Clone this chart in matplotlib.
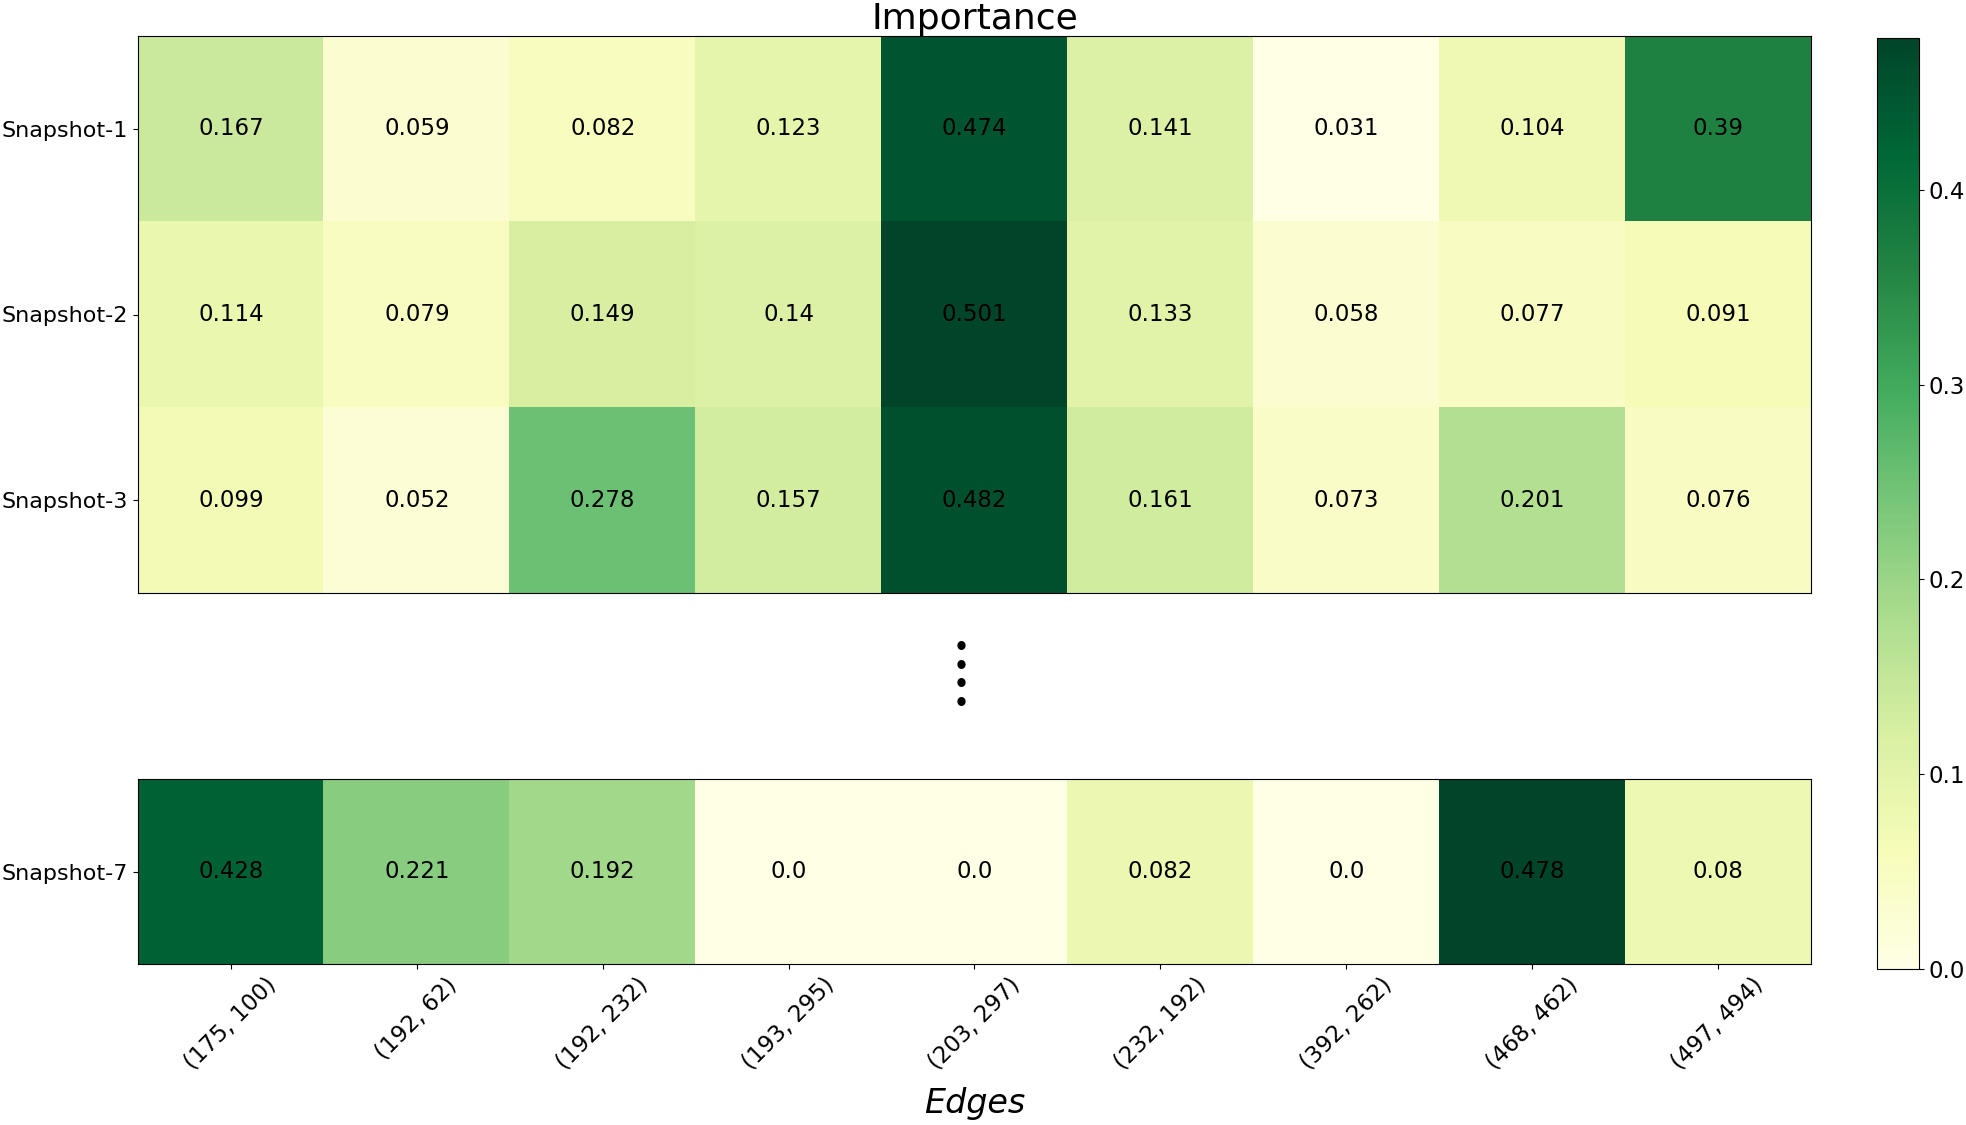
import numpy as np
import matplotlib
matplotlib.use("Agg")
from matplotlib import pyplot as plt

# dati
edges = ["(175, 100)", "(192, 62)", "(192, 232)", "(193, 295)", "(203, 297)",
         "(232, 192)", "(392, 262)", "(468, 462)", "(497, 494)"]
snap_top = ["Snapshot-1", "Snapshot-2", "Snapshot-3"]
snap_bottom = ["Snapshot-7"]

snapshot_1 = [0.167, 0.059, 0.082, 0.123, 0.474, 0.141, 0.031, 0.104, 0.39]
snapshot_2 = [0.114, 0.079, 0.149, 0.14, 0.501, 0.133, 0.058, 0.077, 0.091]
snapshot_3 = [0.099, 0.052, 0.278, 0.157, 0.482, 0.161, 0.073, 0.201, 0.076]
snapshot_7 = [0.428, 0.221, 0.192, 0.0, 0.0, 0.082, 0.0, 0.478, 0.08]

cbar_ticks = [0.0, 0.1, 0.2, 0.3, 0.4]

top = np.array([snapshot_1, snapshot_2, snapshot_3])
bottom = np.array([snapshot_7])

W, H = 1966, 1125
fig = plt.figure(figsize=(W / 100, H / 100), dpi=100)


def px_axes(x0, y0, x1, y1):
    # coordinate in pixel (origine in alto a sinistra)
    return fig.add_axes([x0 / W, 1 - y1 / H, (x1 - x0) / W, (y1 - y0) / H])


ax1 = px_axes(138, 36, 1811, 593)
ax2 = px_axes(138, 779, 1811, 964)
cax = px_axes(1877, 38, 1919, 969)


def draw(ax, data, rows):
    # scala colori di default: min..max dei dati
    im = ax.imshow(data, cmap="YlGn", aspect="auto")
    for i in range(data.shape[0]):
        for j in range(data.shape[1]):
            ax.text(j, i, str(data[i, j]), ha="center", va="center",
                    fontsize=16.5, color="black")
    ax.set_yticks(np.arange(len(rows)))
    ax.set_yticklabels(rows, fontsize=16)
    ax.set_xticks(np.arange(len(edges)))
    return im


draw(ax1, top, snap_top)
ax1.set_xticklabels([])
ax1.tick_params(axis="x", length=0)
ax1.set_title("Importance", fontsize=26, pad=1)

im = draw(ax2, bottom, snap_bottom)
ax2.set_xticklabels(edges, rotation=45, fontsize=16.5)
ax2.set_xlabel("Edges", fontsize=24, style="italic", labelpad=9)

cb = fig.colorbar(im, cax=cax)
cb.set_ticks(cbar_ticks)
cb.ax.tick_params(labelsize=16.5)

# puntini tra i due blocchi
fig.text(961 / W, 1 - 676 / H, "\u2022\n\u2022\n\u2022\n\u2022", ha="center",
         va="center", fontsize=17, linespacing=0.72, fontweight="bold")

fig.savefig("out.png", dpi=100)
